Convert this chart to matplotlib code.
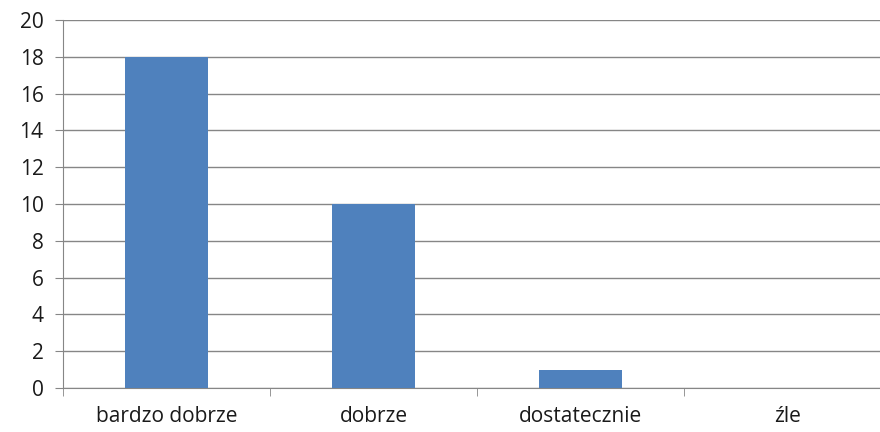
import matplotlib.pyplot as plt
import numpy as np

plt.rcParams['font.family'] = ['Open Sans', 'DejaVu Sans']

categories = ['bardzo dobrze', 'dobrze', 'dostatecznie', 'źle']
values = [18, 10, 1, 0]
yticks = [0, 2, 4, 6, 8, 10, 12, 14, 16, 18, 20]

W, H = 880, 432
fig = plt.figure(figsize=(W / 100, H / 100), dpi=100)
# plot area runs past the right edge of the picture, as in the reference
ax = fig.add_axes([63 / W, (H - 388) / H, 828 / W, 368 / H])

x = np.arange(len(categories))
ax.bar(x, values, width=0.4, color='#4F81BD', zorder=3)

ax.set_xlim(-0.5, len(categories) - 0.5)
ax.set_ylim(0, 20)
ax.set_yticks(yticks)
ax.set_yticklabels([str(v) for v in yticks])
ax.set_xticks(x)
ax.set_xticklabels(categories)
ax.set_xticks(np.arange(len(categories) + 1) - 0.5, minor=True)

grid_col = '#868686'
ax.grid(axis='y', color=grid_col, linewidth=1, zorder=0)
for s in ['top', 'right']:
    ax.spines[s].set_visible(False)
ax.spines['left'].set_color(grid_col)
ax.spines['bottom'].set_color(grid_col)

ax.tick_params(axis='y', length=6, color=grid_col, pad=8, labelsize=15, labelcolor='#1a1a1a')
ax.tick_params(axis='x', which='major', length=0, pad=13, labelsize=15, labelcolor='#1a1a1a')
ax.tick_params(axis='x', which='minor', length=6, color=grid_col)

plt.savefig('out.png', dpi=100)
